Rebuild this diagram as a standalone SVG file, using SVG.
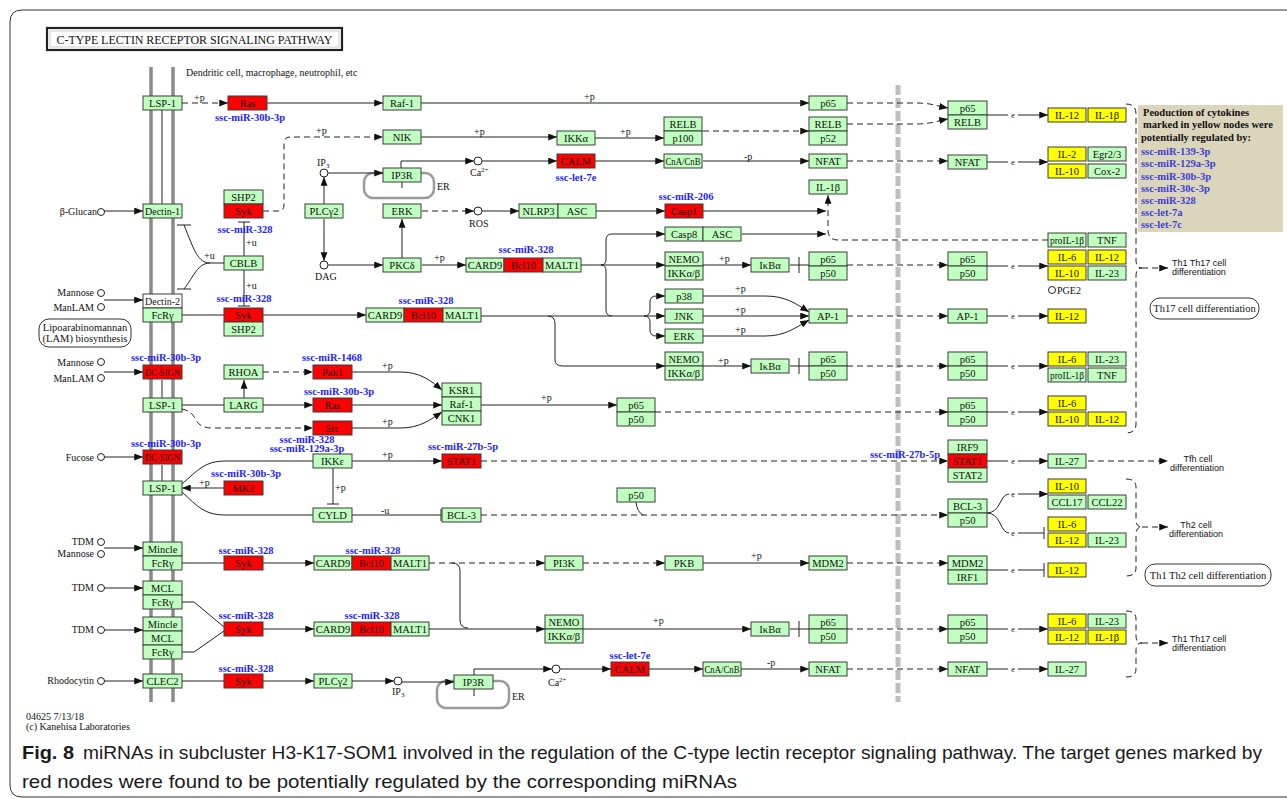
<svg xmlns="http://www.w3.org/2000/svg" width="1287" height="799" viewBox="0 0 1287 799">
<defs>
<marker id="ah" viewBox="0 0 10 8" refX="10" refY="4" markerWidth="9" markerHeight="7" orient="auto" markerUnits="userSpaceOnUse"><path d="M0,0 L10,4 L0,8 z" fill="#111"/></marker>
<style>
.bx{stroke:#3c3c3c;stroke-width:1}
.g{fill:#bfffbf}
.r{fill:#ff0000}
.y{fill:#ffff00}
.w{fill:#ffffff}
text{font-family:"Liberation Serif","DejaVu Serif",serif}
.t{font-size:10.5px;text-anchor:middle;fill:#111}
.m{font-size:10.5px;font-weight:bold;fill:#1e1eff;text-anchor:middle}
.lb{font-size:10px;fill:#111}
.lr{font-size:10px;fill:#111;text-anchor:end}
.e{font-size:8px;fill:#111;text-anchor:middle}
.s{fill:none;stroke:#222;stroke-width:1}
.d{stroke-dasharray:6,4}
.ar{marker-end:url(#ah)}
.cp{fill:#fff;stroke:#222;stroke-width:1}
.sm{font-family:"Liberation Sans",sans-serif;font-size:9px;fill:#111}
.nb{font-size:10.5px;font-weight:bold;fill:#111}
.nm{font-size:10.5px;font-weight:bold;fill:#3d3dd8}
.er{fill:none;stroke:#9a9a9a;stroke-width:2.5}
.cap{font-family:"Liberation Sans","DejaVu Sans",sans-serif;font-size:19px;fill:#1a1a1a}
.capb{font-family:"Liberation Sans","DejaVu Sans",sans-serif;font-size:19px;font-weight:bold;fill:#1a1a1a}
</style>
</defs>
<rect width="1287" height="799" fill="#ffffff"/>
<path id="frame" d="M1287,10 H22 Q10,10 10,22 V785 Q10,797 22,797 H1287" fill="none" stroke="#333" stroke-width="1"/>

<g id="title">
<rect x="47" y="28" width="295" height="22" fill="#fff" stroke="#222" stroke-width="2.2"/>
<rect x="50" y="31" width="289" height="16" fill="none" stroke="#aaa" stroke-width="0.6"/>
<text x="194.5" y="43.5" font-size="12" text-anchor="middle" textLength="276" lengthAdjust="spacing" fill="#111">C-TYPE LECTIN RECEPTOR SIGNALING PATHWAY</text>
</g>

<g id="membrane" stroke="#8a8a8a" stroke-width="3.5">
<line x1="151" y1="67" x2="151" y2="702"/>
<line x1="173" y1="67" x2="173" y2="702"/>
</g>
<line id="nucleus-border" x1="898" y1="85" x2="898" y2="702" stroke="#bdbdbd" stroke-width="5" stroke-dasharray="10,3"/>
<text class="lb" x="186" y="76" font-size="9.5">Dendritic cell, macrophage, neutrophil, etc</text>

<g id="er">
<rect class="er" x="364" y="173" width="70" height="25" rx="9"/>
<rect class="er" x="437" y="681" width="72" height="27" rx="9"/>
</g>

<g id="connectors" class="s">
<path class="s d ar" d="M182,103 H228"/>
<path class="s ar" d="M267,103 H383"/>
<path class="s ar" d="M421,103 H809"/>
<path class="s d ar" d="M847,103 H915 C932,103 936,106 948,108"/>
<path class="s d ar" d="M847,124 H915 C932,124 936,121 948,119"/>
<path class="s d ar" d="M263,211 H278 Q284,211 284,205 V143 Q284,137 290,137 H383"/>
<path class="s ar" d="M421,137 H557"/>
<path class="s ar" d="M595,138 H664"/>
<path class="s d ar" d="M703,131 H809"/>
<path class="s ar" d="M324,204 V177"/>
<path class="s ar" d="M328,173 H383"/>
<path class="s ar" d="M401,168 V161 H474"/>
<path class="s" d="M402,182 V188"/>
<path class="s ar" d="M482,161 H557"/>
<path class="s ar" d="M595,161 H664"/>
<path class="s ar" d="M703,161 H809"/>
<path class="s d ar" d="M847,161 H948"/>
<path class="s ar" d="M324,219 V261"/>
<path class="s ar" d="M328,265 H383"/>
<path class="s ar" d="M402,258 V219"/>
<path class="s d ar" d="M422,211 H474"/>
<path class="s ar" d="M482,211 H519"/>
<path class="s ar" d="M596,211 H665"/>
<path class="s ar" d="M703,211 H826"/>
<path class="s ar" d="M742,234 H826"/>
<path class="s d ar" d="M1048,240 H838 Q828,240 828,230 V195"/>
<path class="s ar" d="M422,265 H466"/>
<path class="s ar" d="M581,265 H665"/>
<path class="s ar" d="M601,265 Q606,265 606,259 V240 Q606,234 612,234 H665"/>
<path class="s" d="M601,265 Q606,265 606,271 V310 Q606,316 612,316"/>
<path class="s ar" d="M703,265 H751"/>
<path class="s" d="M790,265 H809 M799,257 V273"/>
<path class="s d ar" d="M847,265 H948"/>
<path class="s ar" d="M104,211 H143"/>
<path class="s" d="M162,110 V204"/>
<path class="s" d="M244,222 V256 M238,222 H250"/>
<path class="s" d="M244,270 V306 M238,306 H250"/>
<path class="s" d="M224,263 H210 C198,263 194,250 184,225 M177,225 H191"/>
<path class="s" d="M210,263 C198,263 194,276 184,289 M177,289 H191"/>
<path class="s ar" d="M104,300 H143"/>
<path class="s" d="M182,315 H224"/>
<path class="s ar" d="M263,315 H366"/>
<path class="s ar" d="M481,316 H665"/>
<path class="s ar" d="M548,316 Q555,316 555,324 V360 Q555,366 563,366 H665"/>
<path class="s ar" d="M644,316 Q650,316 650,310 V302 Q650,296 656,296 H665"/>
<path class="s ar" d="M644,316 Q650,316 650,322 V330 Q650,336 656,336 H665"/>
<path class="s ar" d="M703,296 H765 C785,296 795,303 809,312"/>
<path class="s ar" d="M703,316 H809"/>
<path class="s ar" d="M703,336 H765 C785,336 795,328 809,320"/>
<path class="s d ar" d="M847,316 H948"/>
<path class="s ar" d="M703,366 H751"/>
<path class="s" d="M790,366 H809 M799,358 V374"/>
<path class="s d ar" d="M847,366 H948"/>
<path class="s ar" d="M104,372 H143"/>
<path class="s" d="M162,380 V398"/>
<path class="s" d="M182,405 H224"/>
<path class="s ar" d="M263,405 H313"/>
<path class="s ar" d="M244,398 V380"/>
<path class="s d ar" d="M263,372 H313"/>
<path class="s d ar" d="M182,409 Q192,411 196,420 Q200,428 212,428 H313"/>
<path class="s ar" d="M352,372 H400 C420,372 430,380 442,390"/>
<path class="s ar" d="M352,405 H442"/>
<path class="s ar" d="M352,428 H400 C420,428 430,420 442,412"/>
<path class="s ar" d="M481,405 H617"/>
<path class="s d ar" d="M655,412 H948"/>
<path class="s ar" d="M104,457 H143"/>
<path class="s" d="M162,465 V481"/>
<path class="s ar" d="M224,488 H182"/>
<path class="s" d="M182,484 C198,470 205,461 225,461 H313"/>
<path class="s ar" d="M352,461 H442"/>
<path class="s" d="M333,468 V504 M327,504 H339"/>
<path class="s" d="M182,492 C198,507 205,515 225,515 H313"/>
<path class="s" d="M352,515 H441 M441,509 V521"/>
<path class="s d ar" d="M481,461 H948"/>
<path class="s d ar" d="M481,515 H948"/>
<path class="s" d="M636,502 Q637,512 643,515"/>
<path class="s ar" d="M987,513 Q995,513 1000,503 Q1004,494 1009,494 M1018,494 H1048"/>
<path class="s" d="M987,513 Q995,513 1000,523 Q1004,533 1009,533 M1018,533 H1044 M1044,527 V539"/>
<path class="s d ar" d="M1088,461 H1168"/>
<path class="s ar" d="M104,548 H143"/>
<path class="s" d="M182,563 H224"/>
<path class="s ar" d="M263,563 H314"/>
<path class="s d ar" d="M429,563 H545"/>
<path class="s d ar" d="M583,563 H665"/>
<path class="s ar" d="M703,563 H809"/>
<path class="s d ar" d="M847,563 H948"/>
<path class="s" d="M452,563 Q460,563 460,571 V620 Q460,628 468,628"/>
<path class="s" d="M987,570 H1008 M1018,570 H1044 M1044,563 V577"/>
<path class="s ar" d="M104,588 H143"/>
<path class="s ar" d="M104,630 H143"/>
<path class="s" d="M182,602 H194 L224,627"/>
<path class="s" d="M182,652 H194 L224,631"/>
<path class="s ar" d="M263,629 H314"/>
<path class="s ar" d="M429,629 H545"/>
<path class="s ar" d="M583,629 H751"/>
<path class="s" d="M790,629 H809 M799,621 V637"/>
<path class="s d ar" d="M847,629 H948"/>
<path class="s ar" d="M104,681 H143"/>
<path class="s" d="M182,681 H224"/>
<path class="s ar" d="M263,681 H314"/>
<path class="s ar" d="M352,681 H394"/>
<path class="s ar" d="M402,682 H454"/>
<path class="s ar" d="M474,675 V669 H552"/>
<path class="s" d="M474,689 V696"/>
<path class="s ar" d="M560,669 H611"/>
<path class="s ar" d="M649,669 H703"/>
<path class="s ar" d="M741,669 H809"/>
<path class="s d ar" d="M847,669 H948"/>
<path class="s ar" d="M987,115 H1008 M1018,115 H1048"/>
<path class="s ar" d="M987,162 H1008 M1018,162 H1048"/>
<path class="s ar" d="M987,266 H1008 M1018,266 H1048"/>
<path class="s ar" d="M987,316 H1008 M1018,316 H1048"/>
<path class="s ar" d="M987,366 H1008 M1018,366 H1048"/>
<path class="s ar" d="M987,412 H1008 M1018,412 H1048"/>
<path class="s ar" d="M987,461 H1008 M1018,461 H1048"/>
<path class="s ar" d="M987,629 H1008 M1018,629 H1048"/>
<path class="s ar" d="M987,669 H1008 M1018,669 H1048"/>
<path class="s d" d="M1126,104 Q1136,104 1136,114 V260 Q1136,268 1142,268 Q1136,268 1136,276 V424 Q1136,433 1126,433"/>
<path class="s d ar" d="M1142,268 H1168"/>
<path class="s d" d="M1126,479 Q1136,479 1136,487 V520 Q1136,527 1142,527 Q1136,527 1136,534 V568 Q1136,576 1126,576"/>
<path class="s d ar" d="M1142,527 H1168"/>
<path class="s d" d="M1126,611 Q1136,611 1136,619 V636 Q1136,643 1142,643 Q1136,643 1136,650 V669 Q1136,677 1126,677"/>
<path class="s d ar" d="M1142,643 H1168"/>
</g>

<g id="compounds">
<circle class="cp" cx="101" cy="212" r="3.5"/>
<circle class="cp" cx="101" cy="293" r="3.5"/>
<circle class="cp" cx="101" cy="307" r="3.5"/>
<circle class="cp" cx="101" cy="362" r="3.5"/>
<circle class="cp" cx="101" cy="378" r="3.5"/>
<circle class="cp" cx="101" cy="457" r="3.5"/>
<circle class="cp" cx="101" cy="542" r="3.5"/>
<circle class="cp" cx="101" cy="554" r="3.5"/>
<circle class="cp" cx="101" cy="588" r="3.5"/>
<circle class="cp" cx="101" cy="630" r="3.5"/>
<circle class="cp" cx="101" cy="681" r="3.5"/>
<circle class="cp" cx="324" cy="173" r="4"/>
<circle class="cp" cx="324" cy="265" r="4"/>
<circle class="cp" cx="478" cy="161" r="4"/>
<circle class="cp" cx="478" cy="211" r="4"/>
<circle class="cp" cx="1052" cy="290" r="3.5"/>
<circle class="cp" cx="398" cy="681" r="4"/>
<circle class="cp" cx="556" cy="669" r="4"/>
</g>

<g id="nodes">
<g id="n-lsp1-a"><rect class="bx g" x="143" y="96" width="39" height="14"/><text class="t" x="162.5" y="107">LSP-1</text></g>
<g id="n-ras-a"><rect class="bx r" x="228" y="96" width="39" height="14"/><text class="t" x="247.5" y="107">Ras</text></g>
<g id="n-raf1-a"><rect class="bx g" x="383" y="96" width="38" height="14"/><text class="t" x="402" y="107">Raf-1</text></g>
<g id="n-p65-a"><rect class="bx g" x="809" y="96" width="38" height="14"/><text class="t" x="828" y="107">p65</text></g>
<g id="n-p65-b"><rect class="bx g" x="948" y="101" width="39" height="14"/><text class="t" x="967.5" y="112">p65</text></g>
<g id="n-relb-b"><rect class="bx g" x="948" y="115" width="39" height="14"/><text class="t" x="967.5" y="126">RELB</text></g>
<g id="n-il12-a"><rect class="bx y" x="1048" y="108" width="38" height="14"/><text class="t" x="1067" y="119">IL-12</text></g>
<g id="n-il1b-a"><rect class="bx y" x="1088" y="108" width="38" height="14"/><text class="t" x="1107" y="119">IL-1β</text></g>
<g id="n-nik"><rect class="bx g" x="383" y="130" width="38" height="14"/><text class="t" x="402" y="141">NIK</text></g>
<g id="n-ikka"><rect class="bx g" x="557" y="131" width="38" height="14"/><text class="t" x="576" y="142">IKKα</text></g>
<g id="n-relb-p100"><rect class="bx g" x="664" y="117" width="38" height="14"/><text class="t" x="683" y="128">RELB</text><rect class="bx g" x="664" y="131" width="38" height="14"/><text class="t" x="683" y="142">p100</text></g>
<g id="n-relb-p52"><rect class="bx g" x="809" y="117" width="38" height="14"/><text class="t" x="828" y="128">RELB</text><rect class="bx g" x="809" y="131" width="38" height="14"/><text class="t" x="828" y="142">p52</text></g>
<g id="n-ip3r-a"><rect class="bx g" x="383" y="168" width="38" height="14"/><text class="t" x="402" y="179">IP3R</text></g>
<g id="n-calm-a"><rect class="bx r" x="557" y="154" width="38" height="14"/><text class="t" x="576" y="165">CALM</text></g>
<g id="n-cna-a"><rect class="bx g" x="664" y="154" width="38" height="14"/><text class="t" x="683" y="165" font-size="9.5" textLength="35" lengthAdjust="spacingAndGlyphs">CnA/CnB</text></g>
<g id="n-nfat-a"><rect class="bx g" x="809" y="154" width="38" height="14"/><text class="t" x="828" y="165">NFAT</text></g>
<g id="n-nfat-b"><rect class="bx g" x="948" y="155" width="39" height="14"/><text class="t" x="967.5" y="166">NFAT</text></g>
<g id="n-il2"><rect class="bx y" x="1048" y="147" width="38" height="14"/><text class="t" x="1067" y="158">IL-2</text></g>
<g id="n-egr"><rect class="bx g" x="1088" y="147" width="38" height="14"/><text class="t" x="1107" y="158">Egr2/3</text></g>
<g id="n-il10-a"><rect class="bx y" x="1048" y="164" width="38" height="14"/><text class="t" x="1067" y="175">IL-10</text></g>
<g id="n-cox2"><rect class="bx g" x="1088" y="164" width="38" height="14"/><text class="t" x="1107" y="175">Cox-2</text></g>
<g id="n-il1b-g"><rect class="bx g" x="809" y="180" width="38" height="14"/><text class="t" x="828" y="191">IL-1β</text></g>
<g id="n-dectin1"><rect class="bx g" x="143" y="204" width="39" height="14"/><text class="t" x="162.5" y="215" textLength="35" lengthAdjust="spacingAndGlyphs">Dectin-1</text></g>
<g id="n-shp2-a"><rect class="bx g" x="224" y="190" width="39" height="14"/><text class="t" x="243.5" y="201">SHP2</text></g>
<g id="n-syk-a"><rect class="bx r" x="224" y="204" width="39" height="14"/><text class="t" x="243.5" y="215">Syk</text></g>
<g id="n-plcg2-a"><rect class="bx g" x="305" y="204" width="38" height="14"/><text class="t" x="324" y="215">PLCγ2</text></g>
<g id="n-erk-a"><rect class="bx g" x="383" y="204" width="38" height="14"/><text class="t" x="402" y="215">ERK</text></g>
<g id="n-nlrp3"><rect class="bx g" x="519" y="204" width="39" height="14"/><text class="t" x="538.5" y="215">NLRP3</text></g>
<g id="n-asc-a"><rect class="bx g" x="558" y="204" width="38" height="14"/><text class="t" x="577" y="215">ASC</text></g>
<g id="n-casp1"><rect class="bx r" x="665" y="204" width="38" height="14"/><text class="t" x="684" y="215">Casp1</text></g>
<g id="n-casp8"><rect class="bx g" x="665" y="227" width="38" height="14"/><text class="t" x="684" y="238">Casp8</text></g>
<g id="n-asc-b"><rect class="bx g" x="703" y="227" width="38" height="14"/><text class="t" x="722" y="238">ASC</text></g>
<g id="n-proil1b-a"><rect class="bx g" x="1048" y="233" width="38" height="14"/><text class="t" x="1067" y="244" textLength="34" lengthAdjust="spacingAndGlyphs">proIL-1β</text></g>
<g id="n-tnf-a"><rect class="bx g" x="1088" y="233" width="38" height="14"/><text class="t" x="1107" y="244">TNF</text></g>
<g id="n-cblb"><rect class="bx g" x="224" y="256" width="39" height="14"/><text class="t" x="243.5" y="267">CBLB</text></g>
<g id="n-pkcd"><rect class="bx g" x="383" y="258" width="38" height="14"/><text class="t" x="402" y="269">PKCδ</text></g>
<g id="n-card9-a"><rect class="bx g" x="466" y="258" width="38" height="14"/><text class="t" x="485" y="269">CARD9</text></g>
<g id="n-bcl10-a"><rect class="bx r" x="504" y="258" width="39" height="14"/><text class="t" x="523.5" y="269">Bcl10</text></g>
<g id="n-malt1-a"><rect class="bx g" x="543" y="258" width="38" height="14"/><text class="t" x="562" y="269">MALT1</text></g>
<g id="n-nemo-a"><rect class="bx g" x="665" y="252" width="38" height="14"/><text class="t" x="684" y="263">NEMO</text><rect class="bx g" x="665" y="266" width="38" height="14"/><text class="t" x="684" y="277">IKKα/β</text></g>
<g id="n-ikba-a"><rect class="bx g" x="751" y="258" width="38" height="14"/><text class="t" x="770" y="269">IκBα</text></g>
<g id="n-p65p50-a"><rect class="bx g" x="809" y="252" width="38" height="14"/><text class="t" x="828" y="263">p65</text><rect class="bx g" x="809" y="266" width="38" height="14"/><text class="t" x="828" y="277">p50</text></g>
<g id="n-p65p50-b"><rect class="bx g" x="948" y="252" width="39" height="14"/><text class="t" x="967.5" y="263">p65</text><rect class="bx g" x="948" y="266" width="39" height="14"/><text class="t" x="967.5" y="277">p50</text></g>
<g id="n-il6-a"><rect class="bx y" x="1048" y="250" width="38" height="14"/><text class="t" x="1067" y="261">IL-6</text></g>
<g id="n-il12-b"><rect class="bx y" x="1088" y="250" width="38" height="14"/><text class="t" x="1107" y="261">IL-12</text></g>
<g id="n-il10-b"><rect class="bx y" x="1048" y="266" width="38" height="14"/><text class="t" x="1067" y="277">IL-10</text></g>
<g id="n-il23-a"><rect class="bx g" x="1088" y="266" width="38" height="14"/><text class="t" x="1107" y="277">IL-23</text></g>
<g id="n-p38"><rect class="bx g" x="665" y="289" width="38" height="14"/><text class="t" x="684" y="300">p38</text></g>
<g id="n-dectin2"><rect class="bx w" x="143" y="294" width="39" height="14"/><text class="t" x="162.5" y="305" textLength="35" lengthAdjust="spacingAndGlyphs">Dectin-2</text></g>
<g id="n-fcrg-a"><rect class="bx g" x="143" y="308" width="39" height="14"/><text class="t" x="162.5" y="319">FcRγ</text></g>
<g id="n-syk-b"><rect class="bx r" x="224" y="308" width="39" height="14"/><text class="t" x="243.5" y="319">Syk</text></g>
<g id="n-shp2-b"><rect class="bx g" x="224" y="322" width="39" height="14"/><text class="t" x="243.5" y="333">SHP2</text></g>
<g id="n-card9-b"><rect class="bx g" x="366" y="308" width="38" height="14"/><text class="t" x="385" y="319">CARD9</text></g>
<g id="n-bcl10-b"><rect class="bx r" x="404" y="308" width="39" height="14"/><text class="t" x="423.5" y="319">Bcl10</text></g>
<g id="n-malt1-b"><rect class="bx g" x="443" y="308" width="38" height="14"/><text class="t" x="462" y="319">MALT1</text></g>
<g id="n-jnk"><rect class="bx g" x="665" y="309" width="38" height="14"/><text class="t" x="684" y="320">JNK</text></g>
<g id="n-ap1-a"><rect class="bx g" x="809" y="309" width="38" height="14"/><text class="t" x="828" y="320">AP-1</text></g>
<g id="n-ap1-b"><rect class="bx g" x="948" y="309" width="39" height="14"/><text class="t" x="967.5" y="320">AP-1</text></g>
<g id="n-il12-c"><rect class="bx y" x="1048" y="309" width="38" height="14"/><text class="t" x="1067" y="320">IL-12</text></g>
<g id="n-erk-b"><rect class="bx g" x="665" y="329" width="38" height="14"/><text class="t" x="684" y="340">ERK</text></g>
<g id="n-nemo-b"><rect class="bx g" x="665" y="352" width="38" height="14"/><text class="t" x="684" y="363">NEMO</text><rect class="bx g" x="665" y="366" width="38" height="14"/><text class="t" x="684" y="377">IKKα/β</text></g>
<g id="n-ikba-b"><rect class="bx g" x="751" y="359" width="38" height="14"/><text class="t" x="770" y="370">IκBα</text></g>
<g id="n-p65p50-c"><rect class="bx g" x="809" y="352" width="38" height="14"/><text class="t" x="828" y="363">p65</text><rect class="bx g" x="809" y="366" width="38" height="14"/><text class="t" x="828" y="377">p50</text></g>
<g id="n-p65p50-d"><rect class="bx g" x="948" y="352" width="39" height="14"/><text class="t" x="967.5" y="363">p65</text><rect class="bx g" x="948" y="366" width="39" height="14"/><text class="t" x="967.5" y="377">p50</text></g>
<g id="n-il6-b"><rect class="bx y" x="1048" y="352" width="38" height="14"/><text class="t" x="1067" y="363">IL-6</text></g>
<g id="n-il23-b"><rect class="bx g" x="1088" y="352" width="38" height="14"/><text class="t" x="1107" y="363">IL-23</text></g>
<g id="n-proil1b-b"><rect class="bx g" x="1048" y="368" width="38" height="14"/><text class="t" x="1067" y="379" textLength="34" lengthAdjust="spacingAndGlyphs">proIL-1β</text></g>
<g id="n-tnf-b"><rect class="bx g" x="1088" y="368" width="38" height="14"/><text class="t" x="1107" y="379">TNF</text></g>
<g id="n-dcsign-a"><rect class="bx r" x="143" y="365" width="39" height="14"/><text class="t" x="162.5" y="376" textLength="35" lengthAdjust="spacingAndGlyphs">DC-SIGN</text></g>
<g id="n-rhoa"><rect class="bx g" x="224" y="365" width="39" height="14"/><text class="t" x="243.5" y="376">RHOA</text></g>
<g id="n-pak1"><rect class="bx r" x="313" y="365" width="39" height="14"/><text class="t" x="332.5" y="376">Pak1</text></g>
<g id="n-ksr1"><rect class="bx g" x="442" y="383" width="39" height="14"/><text class="t" x="461.5" y="394">KSR1</text></g>
<g id="n-raf1-b"><rect class="bx g" x="442" y="397" width="39" height="14"/><text class="t" x="461.5" y="408">Raf-1</text></g>
<g id="n-cnk1"><rect class="bx g" x="442" y="411" width="39" height="14"/><text class="t" x="461.5" y="422">CNK1</text></g>
<g id="n-lsp1-b"><rect class="bx g" x="143" y="398" width="39" height="14"/><text class="t" x="162.5" y="409">LSP-1</text></g>
<g id="n-larg"><rect class="bx g" x="224" y="398" width="39" height="14"/><text class="t" x="243.5" y="409">LARG</text></g>
<g id="n-ras-b"><rect class="bx r" x="313" y="398" width="39" height="14"/><text class="t" x="332.5" y="409">Ras</text></g>
<g id="n-p65p50-e"><rect class="bx g" x="617" y="398" width="38" height="14"/><text class="t" x="636" y="409">p65</text><rect class="bx g" x="617" y="412" width="38" height="14"/><text class="t" x="636" y="423">p50</text></g>
<g id="n-p65p50-f"><rect class="bx g" x="948" y="398" width="39" height="14"/><text class="t" x="967.5" y="409">p65</text><rect class="bx g" x="948" y="412" width="39" height="14"/><text class="t" x="967.5" y="423">p50</text></g>
<g id="n-il6-c"><rect class="bx y" x="1048" y="396" width="38" height="14"/><text class="t" x="1067" y="407">IL-6</text></g>
<g id="n-il10-c"><rect class="bx y" x="1048" y="412" width="38" height="14"/><text class="t" x="1067" y="423">IL-10</text></g>
<g id="n-il12-d"><rect class="bx y" x="1088" y="412" width="38" height="14"/><text class="t" x="1107" y="423">IL-12</text></g>
<g id="n-src"><rect class="bx r" x="313" y="421" width="39" height="14"/><text class="t" x="332.5" y="432">Src</text></g>
<g id="n-irf9"><rect class="bx g" x="948" y="440" width="39" height="14"/><text class="t" x="967.5" y="451">IRF9</text></g>
<g id="n-stat1-b"><rect class="bx r" x="948" y="454" width="39" height="14"/><text class="t" x="967.5" y="465">STAT1</text></g>
<g id="n-stat2"><rect class="bx g" x="948" y="468" width="39" height="14"/><text class="t" x="967.5" y="479">STAT2</text></g>
<g id="n-dcsign-b"><rect class="bx r" x="143" y="450" width="39" height="14"/><text class="t" x="162.5" y="461" textLength="35" lengthAdjust="spacingAndGlyphs">DC-SIGN</text></g>
<g id="n-ikke"><rect class="bx g" x="313" y="454" width="39" height="14"/><text class="t" x="332.5" y="465">IKKε</text></g>
<g id="n-stat1-a"><rect class="bx r" x="442" y="454" width="39" height="14"/><text class="t" x="461.5" y="465">STAT1</text></g>
<g id="n-il27-a"><rect class="bx g" x="1048" y="454" width="38" height="14"/><text class="t" x="1067" y="465">IL-27</text></g>
<g id="n-il10-d"><rect class="bx y" x="1048" y="479" width="38" height="14"/><text class="t" x="1067" y="490">IL-10</text></g>
<g id="n-ccl17"><rect class="bx g" x="1048" y="495" width="38" height="14"/><text class="t" x="1067" y="506">CCL17</text></g>
<g id="n-ccl22"><rect class="bx g" x="1088" y="495" width="38" height="14"/><text class="t" x="1107" y="506">CCL22</text></g>
<g id="n-lsp1-c"><rect class="bx g" x="143" y="481" width="39" height="14"/><text class="t" x="162.5" y="492">LSP-1</text></g>
<g id="n-mk2"><rect class="bx r" x="224" y="481" width="39" height="14"/><text class="t" x="243.5" y="492">MK2</text></g>
<g id="n-p50-a"><rect class="bx g" x="617" y="488" width="38" height="14"/><text class="t" x="636" y="499">p50</text></g>
<g id="n-bcl3-b"><rect class="bx g" x="948" y="499" width="39" height="14"/><text class="t" x="967.5" y="510">BCL-3</text><rect class="bx g" x="948" y="513" width="39" height="14"/><text class="t" x="967.5" y="524">p50</text></g>
<g id="n-cyld"><rect class="bx g" x="313" y="508" width="39" height="14"/><text class="t" x="332.5" y="519">CYLD</text></g>
<g id="n-bcl3-a"><rect class="bx g" x="442" y="508" width="39" height="14"/><text class="t" x="461.5" y="519">BCL-3</text></g>
<g id="n-il6-d"><rect class="bx y" x="1048" y="517" width="38" height="14"/><text class="t" x="1067" y="528">IL-6</text></g>
<g id="n-il12-e"><rect class="bx y" x="1048" y="533" width="38" height="14"/><text class="t" x="1067" y="544">IL-12</text></g>
<g id="n-il23-c"><rect class="bx g" x="1088" y="533" width="38" height="14"/><text class="t" x="1107" y="544">IL-23</text></g>
<g id="n-mincle-a"><rect class="bx g" x="143" y="542" width="39" height="14"/><text class="t" x="162.5" y="553">Mincle</text></g>
<g id="n-fcrg-b"><rect class="bx g" x="143" y="556" width="39" height="14"/><text class="t" x="162.5" y="567">FcRγ</text></g>
<g id="n-syk-c"><rect class="bx r" x="224" y="556" width="39" height="14"/><text class="t" x="243.5" y="567">Syk</text></g>
<g id="n-card9-c"><rect class="bx g" x="314" y="556" width="38" height="14"/><text class="t" x="333" y="567">CARD9</text></g>
<g id="n-bcl10-c"><rect class="bx r" x="352" y="556" width="39" height="14"/><text class="t" x="371.5" y="567">Bcl10</text></g>
<g id="n-malt1-c"><rect class="bx g" x="391" y="556" width="38" height="14"/><text class="t" x="410" y="567">MALT1</text></g>
<g id="n-pi3k"><rect class="bx g" x="545" y="556" width="38" height="14"/><text class="t" x="564" y="567">PI3K</text></g>
<g id="n-pkb"><rect class="bx g" x="665" y="556" width="38" height="14"/><text class="t" x="684" y="567">PKB</text></g>
<g id="n-mdm2-a"><rect class="bx g" x="809" y="556" width="38" height="14"/><text class="t" x="828" y="567">MDM2</text></g>
<g id="n-mdm2-b"><rect class="bx g" x="948" y="556" width="39" height="14"/><text class="t" x="967.5" y="567">MDM2</text><rect class="bx g" x="948" y="570" width="39" height="14"/><text class="t" x="967.5" y="581">IRF1</text></g>
<g id="n-il12-f"><rect class="bx y" x="1048" y="563" width="38" height="14"/><text class="t" x="1067" y="574">IL-12</text></g>
<g id="n-mcl-a"><rect class="bx g" x="143" y="581" width="39" height="14"/><text class="t" x="162.5" y="592">MCL</text></g>
<g id="n-fcrg-c"><rect class="bx g" x="143" y="595" width="39" height="14"/><text class="t" x="162.5" y="606">FcRγ</text></g>
<g id="n-mincle-b"><rect class="bx g" x="143" y="617" width="39" height="14"/><text class="t" x="162.5" y="628">Mincle</text></g>
<g id="n-mcl-b"><rect class="bx g" x="143" y="631" width="39" height="14"/><text class="t" x="162.5" y="642">MCL</text></g>
<g id="n-fcrg-d"><rect class="bx g" x="143" y="645" width="39" height="14"/><text class="t" x="162.5" y="656">FcRγ</text></g>
<g id="n-syk-d"><rect class="bx r" x="224" y="622" width="39" height="14"/><text class="t" x="243.5" y="633">Syk</text></g>
<g id="n-card9-d"><rect class="bx g" x="314" y="622" width="38" height="14"/><text class="t" x="333" y="633">CARD9</text></g>
<g id="n-bcl10-d"><rect class="bx r" x="352" y="622" width="39" height="14"/><text class="t" x="371.5" y="633">Bcl10</text></g>
<g id="n-malt1-d"><rect class="bx g" x="391" y="622" width="38" height="14"/><text class="t" x="410" y="633">MALT1</text></g>
<g id="n-nemo-c"><rect class="bx g" x="545" y="615" width="38" height="14"/><text class="t" x="564" y="626">NEMO</text><rect class="bx g" x="545" y="629" width="38" height="14"/><text class="t" x="564" y="640">IKKα/β</text></g>
<g id="n-ikba-c"><rect class="bx g" x="751" y="622" width="38" height="14"/><text class="t" x="770" y="633">IκBα</text></g>
<g id="n-p65p50-g"><rect class="bx g" x="809" y="615" width="38" height="14"/><text class="t" x="828" y="626">p65</text><rect class="bx g" x="809" y="629" width="38" height="14"/><text class="t" x="828" y="640">p50</text></g>
<g id="n-p65p50-h"><rect class="bx g" x="948" y="615" width="39" height="14"/><text class="t" x="967.5" y="626">p65</text><rect class="bx g" x="948" y="629" width="39" height="14"/><text class="t" x="967.5" y="640">p50</text></g>
<g id="n-il6-e"><rect class="bx y" x="1048" y="614" width="38" height="14"/><text class="t" x="1067" y="625">IL-6</text></g>
<g id="n-il23-d"><rect class="bx g" x="1088" y="614" width="38" height="14"/><text class="t" x="1107" y="625">IL-23</text></g>
<g id="n-il12-g"><rect class="bx y" x="1048" y="630" width="38" height="14"/><text class="t" x="1067" y="641">IL-12</text></g>
<g id="n-il1b-b"><rect class="bx y" x="1088" y="630" width="38" height="14"/><text class="t" x="1107" y="641">IL-1β</text></g>
<g id="n-clec2"><rect class="bx g" x="143" y="674" width="39" height="14"/><text class="t" x="162.5" y="685">CLEC2</text></g>
<g id="n-syk-e"><rect class="bx r" x="224" y="674" width="39" height="14"/><text class="t" x="243.5" y="685">Syk</text></g>
<g id="n-plcg2-b"><rect class="bx g" x="314" y="674" width="38" height="14"/><text class="t" x="333" y="685">PLCγ2</text></g>
<g id="n-ip3r-b"><rect class="bx g" x="454" y="675" width="39" height="14"/><text class="t" x="473.5" y="686">IP3R</text></g>
<g id="n-calm-b"><rect class="bx r" x="611" y="662" width="38" height="14"/><text class="t" x="630" y="673">CALM</text></g>
<g id="n-cna-b"><rect class="bx g" x="703" y="662" width="38" height="14"/><text class="t" x="722" y="673" font-size="9.5" textLength="35" lengthAdjust="spacingAndGlyphs">CnA/CnB</text></g>
<g id="n-nfat-c"><rect class="bx g" x="809" y="662" width="38" height="14"/><text class="t" x="828" y="673">NFAT</text></g>
<g id="n-nfat-d"><rect class="bx g" x="948" y="662" width="39" height="14"/><text class="t" x="967.5" y="673">NFAT</text></g>
<g id="n-il27-b"><rect class="bx g" x="1048" y="662" width="38" height="14"/><text class="t" x="1067" y="673">IL-27</text></g>
</g>

<g id="note">
<rect x="1138" y="105" width="145" height="127" fill="#dbd5bb"/>
<text class="nb" x="1143" y="116">Peoduction of cytokines</text>
<text class="nb" x="1143" y="128">marked in yellow nodes were</text>
<text class="nb" x="1141" y="141">potentially regulated by:</text>
<text class="nm" x="1141" y="155">ssc-miR-139-3p</text>
<text class="nm" x="1141" y="167">ssc-miR-129a-3p</text>
<text class="nm" x="1141" y="180">ssc-miR-30b-3p</text>
<text class="nm" x="1141" y="192">ssc-miR-30c-3p</text>
<text class="nm" x="1141" y="204">ssc-miR-328</text>
<text class="nm" x="1141" y="216">ssc-let-7a</text>
<text class="nm" x="1141" y="228">ssc-let-7c</text>
</g>

<g id="maps">
<rect x="39" y="319" width="92" height="28" rx="10" fill="#fff" stroke="#333"/>
<text class="t" x="85" y="331" font-size="9.5">Lipoarabinomannan</text>
<text class="t" x="85" y="342" font-size="9.5">(LAM) biosynthesis</text>
<rect x="1150" y="298" width="109" height="21" rx="10" fill="#fff" stroke="#333"/>
<text class="t" x="1204.5" y="312" font-size="9.5">Th17 cell differentiation</text>
<rect x="1145" y="564" width="126" height="22" rx="10" fill="#fff" stroke="#333"/>
<text class="t" x="1208" y="579" font-size="9.5">Th1 Th2  cell differentiation</text>
</g>

<g id="mirna">
<text class="m" x="250" y="121">ssc-miR-30b-3p</text>
<text class="m" x="576" y="181">ssc-let-7e</text>
<text class="m" x="686" y="200">ssc-miR-206</text>
<text class="m" x="245" y="233">ssc-miR-328</text>
<text class="m" x="526" y="253">ssc-miR-328</text>
<text class="m" x="244" y="302">ssc-miR-328</text>
<text class="m" x="426" y="304">ssc-miR-328</text>
<text class="m" x="166" y="361">ssc-miR-30b-3p</text>
<text class="m" x="332" y="361">ssc-miR-1468</text>
<text class="m" x="339" y="395">ssc-miR-30b-3p</text>
<text class="m" x="166" y="447">ssc-miR-30b-3p</text>
<text class="m" x="307" y="443" text-anchor="start">ssc-miR-328</text>
<text class="m" x="307" y="452" text-anchor="start">ssc-miR-129a-3p</text>
<text class="m" x="463" y="450">ssc-miR-27b-5p</text>
<text class="m" x="246" y="477">ssc-miR-30b-3p</text>
<text class="m" x="905" y="458">ssc-miR-27b-5p</text>
<text class="m" x="246" y="554">ssc-miR-328</text>
<text class="m" x="373" y="554">ssc-miR-328</text>
<text class="m" x="246" y="619">ssc-miR-328</text>
<text class="m" x="372" y="619">ssc-miR-328</text>
<text class="m" x="246" y="672">ssc-miR-328</text>
<text class="m" x="630" y="659">ssc-let-7e</text>
</g>

<g id="labels">
<text class="lr" x="97" y="215">β-Glucan</text>
<text class="lr" x="94" y="296">Mannose</text>
<text class="lr" x="94" y="311">ManLAM</text>
<text class="lr" x="94" y="366">Mannose</text>
<text class="lr" x="94" y="382">ManLAM</text>
<text class="lr" x="94" y="461">Fucose</text>
<text class="lr" x="94" y="545">TDM</text>
<text class="lr" x="94" y="557">Mannose</text>
<text class="lr" x="94" y="591">TDM</text>
<text class="lr" x="94" y="633">TDM</text>
<text class="lr" x="94" y="684">Rhodocytin</text>
<text class="lb" x="317" y="166">IP<tspan font-size="7" dy="2">3</tspan></text>
<text class="lb" x="315" y="280">DAG</text>
<text class="lb" x="470" y="176">Ca<tspan font-size="7" dy="-4">2+</tspan></text>
<text class="lb" x="469" y="227">ROS</text>
<text class="lb" x="437" y="190">ER</text>
<text class="lb" x="1057" y="294" font-size="9.5">PGE2</text>
<text class="lb" x="392" y="695">IP<tspan font-size="7" dy="2">3</tspan></text>
<text class="lb" x="548" y="686">Ca<tspan font-size="7" dy="-4">2+</tspan></text>
<text class="lb" x="512" y="700">ER</text>
<text class="lb" x="194" y="101">+p</text>
<text class="lb" x="584" y="100">+p</text>
<text class="lb" x="316" y="134">+p</text>
<text class="lb" x="474" y="135">+p</text>
<text class="lb" x="620" y="135">+p</text>
<text class="lb" x="744" y="160">-p</text>
<text class="lb" x="434" y="261">+p</text>
<text class="lb" x="719" y="262">+p</text>
<text class="lb" x="246" y="246">+u</text>
<text class="lb" x="246" y="289">+u</text>
<text class="lb" x="204" y="259">+u</text>
<text class="lb" x="735" y="292">+p</text>
<text class="lb" x="735" y="313">+p</text>
<text class="lb" x="735" y="333">+p</text>
<text class="lb" x="718" y="364">+p</text>
<text class="lb" x="382" y="369">+p</text>
<text class="lb" x="382" y="425">+p</text>
<text class="lb" x="541" y="401">+p</text>
<text class="lb" x="199" y="486">+p</text>
<text class="lb" x="382" y="458">+p</text>
<text class="lb" x="335" y="491">+p</text>
<text class="lb" x="381" y="514">-u</text>
<text class="lb" x="751" y="559">+p</text>
<text class="lb" x="653" y="624">+p</text>
<text class="lb" x="767" y="666">-p</text>
<text class="e" x="1013" y="118">e</text>
<text class="e" x="1013" y="165">e</text>
<text class="e" x="1013" y="269">e</text>
<text class="e" x="1013" y="319">e</text>
<text class="e" x="1013" y="369">e</text>
<text class="e" x="1013" y="415">e</text>
<text class="e" x="1013" y="464">e</text>
<text class="e" x="1013" y="497">e</text>
<text class="e" x="1013" y="536">e</text>
<text class="e" x="1013" y="573">e</text>
<text class="e" x="1013" y="632">e</text>
<text class="e" x="1013" y="672">e</text>
<text class="sm" x="1172" y="266">Th1 Th17 cell</text>
<text class="sm" x="1172" y="275">differentiation</text>
<text class="sm" x="1198" y="462" text-anchor="middle">Tfh cell</text>
<text class="sm" x="1197" y="471" text-anchor="middle">differentiation</text>
<text class="sm" x="1196" y="528" text-anchor="middle">Th2 cell</text>
<text class="sm" x="1196" y="537" text-anchor="middle">differentiation</text>
<text class="sm" x="1172" y="642">Th1 Th17 cell</text>
<text class="sm" x="1172" y="651">differentiation</text>
<text class="lb" x="26" y="720" font-size="8">04625 7/13/18</text>
<text class="lb" x="26" y="730" font-size="8">(c) Kanehisa Laboratories</text>
</g>

<g id="caption">
<text class="capb" x="22" y="759" textLength="52" lengthAdjust="spacingAndGlyphs">Fig. 8</text>
<text class="cap" x="83" y="759" textLength="1179" lengthAdjust="spacingAndGlyphs">miRNAs in subcluster H3-K17-SOM1 involved in the regulation of the C-type lectin receptor signaling pathway. The target genes marked by</text>
<text class="cap" x="22" y="788" textLength="715" lengthAdjust="spacingAndGlyphs">red nodes were found to be potentially regulated by the corresponding miRNAs</text>
</g>
</svg>
